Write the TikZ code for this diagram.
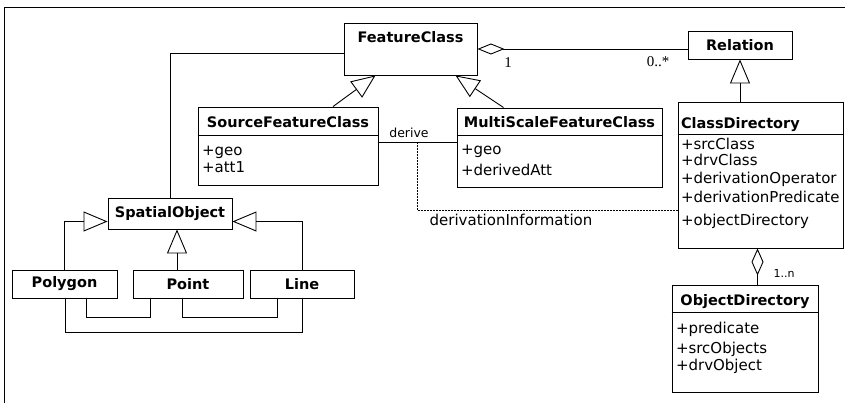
\documentclass[tikz,border=0pt]{standalone}
\usepackage{fontspec}
\setmainfont{DejaVu Sans}
\newfontfamily\multfont{Liberation Serif}
\usetikzlibrary{arrows.meta,calc}

\tikzset{
  umlbox/.style={draw, inner sep=0pt},
  head/.style={font=\fontsize{14.5}{17}\selectfont\bfseries, inner sep=0pt},
  attr/.style={font=\fontsize{15}{17}\selectfont, anchor=west, inner sep=0pt},
  mult/.style={font=\multfont\fontsize{15}{17}\selectfont, inner sep=0pt},
  gen/.style={-{Triangle[open,length=24pt,width=20pt]}},
  aggr/.style={{Diamond[open,length=27pt,width=11pt]}-},
  infoline/.style={dash pattern=on 2pt off 1pt},
}

\begin{document}
\begin{tikzpicture}[x=1pt,y=-1pt,line width=0.9pt]
    \useasboundingbox (0,0) rectangle (845,403);
    \draw (845,7) -- (4,7) -- (4,403);

    % feature classes
    \node[umlbox, minimum width=133, minimum height=52] (feat) at (410.5,49) {};
    \node[head] (feath) at ([yshift=-15]feat.north) {FeatureClass};

    \node[umlbox, minimum width=180, minimum height=78] (src) at (288,146) {};
    \node[head] (srch) at ([yshift=-16]src.north) {SourceFeatureClass};
    \draw ([yshift=-29]src.north west) -- ([yshift=-29]src.north east);
    \node[attr] (src1) at ([xshift=4,yshift=-46]src.north west) {+geo};
    \node[attr] (src2) at ([xshift=4,yshift=-61]src.north west) {+att1};

    \node[umlbox, minimum width=205, minimum height=79] (multi) at (559.5,147.5) {};
    \node[head] (multih) at ([yshift=-15]multi.north) {MultiScaleFeatureClass};
    \draw ([yshift=-28]multi.north west) -- ([yshift=-28]multi.north east);
    \node[attr] (multi1) at ([xshift=4,yshift=-44]multi.north west) {+geo};
    \node[attr] (multi2) at ([xshift=4,yshift=-62]multi.north west) {+derivedAtt};

    % relations
    \node[umlbox, minimum width=104, minimum height=28] (rel) at (740,45) {};
    \node[head] (relh) at (rel.center) {Relation};

    \node[umlbox, minimum width=165, minimum height=146] (cd) at (760.5,175) {};
    \node[head, anchor=west] (cdh) at ([xshift=3,yshift=-23]cd.north west) {ClassDirectory};
    \draw ([yshift=-33]cd.north west) -- ([yshift=-33]cd.north east);
    \node[attr] (cd1) at ([xshift=3,yshift=-42]cd.north west) {+srcClass};
    \node[attr] (cd2) at ([xshift=3,yshift=-58]cd.north west) {+drvClass};
    \node[attr] (cd3) at ([xshift=3,yshift=-78]cd.north west) {+derivationOperator};
    \node[attr] (cd4) at ([xshift=3,yshift=-95]cd.north west) {+derivationPredicate};
    \node[attr] (cd5) at ([xshift=3,yshift=-120]cd.north west) {+objectDirectory};

    \node[umlbox, minimum width=146, minimum height=107] (od) at (745,338.5) {};
    \node[head] (odh) at ([yshift=-17]od.north) {ObjectDirectory};
    \draw ([yshift=-28]od.north west) -- ([yshift=-28]od.north east);
    \node[attr] (od1) at ([xshift=4,yshift=-45]od.north west) {+predicate};
    \node[attr] (od2) at ([xshift=4,yshift=-65]od.north west) {+srcObjects};
    \node[attr] (od3) at ([xshift=4,yshift=-82]od.north west) {+drvObject};

    % spatial objects
    \node[umlbox, minimum width=124, minimum height=31] (spatial) at (170,213.5) {};
    \node[head] (spatialh) at (spatial.center) {SpatialObject};
    \node[umlbox, minimum width=105, minimum height=28] (poly) at (64.5,284) {};
    \node[head] (polyh) at (poly.center) {Polygon};
    \node[umlbox, minimum width=110, minimum height=28] (point) at (188,284) {};
    \node[head] (pointh) at (point.center) {Point};
    \node[umlbox, minimum width=104, minimum height=28] (line) at (302,284) {};
    \node[head] (lineh) at (line.center) {Line};

    % generalisations
    \draw[gen] ([xshift=45]src.north) -- ([xshift=-35]feat.south);
    \draw[gen] ([xshift=-56]multi.north) -- ([xshift=45]feat.south);
    \draw[gen] (rel.south |- cd.north) -- (rel.south);
    \coordinate (spt) at ([xshift=7]spatial.south);
    \draw[gen] (spt |- point.north) -- (spt);
    \draw[gen] (poly.north) |- ([yshift=-8]spatial.west);
    \draw[gen] (line.north) |- ([yshift=-8]spatial.east);

    % associations
    \draw[aggr] (feat.east) -- (feat.east -| rel.west);
    \node[mult] (m1) at (508,63) {1};
    \node[mult] (m2) at (658,62) {0..*};

    \coordinate (cdo) at ([xshift=-3]cd.south);
    \draw[{Diamond[open,length=27pt,width=12pt]}-] (cdo) -- (cdo |- od.north);
    \node[font=\fontsize{11}{13}\selectfont, inner sep=0pt] (m3) at (784,273) {1..n};

    \draw ([yshift=-4]feat.west) -| (spatial.north);

    \coordinate (dv) at ([yshift=4]src.east);
    \draw (dv) -- (dv -| multi.west);
    \node[font=\fontsize{12.5}{14}\selectfont, inner sep=0pt] (dvl) at (409,133) {derive};
    \draw[infoline] ([xshift=39]dv) |- ([yshift=-35]cd.west);
    \node[attr, anchor=center] (dinf) at (511,220) {derivationInformation};

    \draw ([xshift=22]poly.south) -- ++(0,19) -| ([xshift=-38]point.south);
    \draw ([xshift=-6]point.south) -- ++(0,19) -| ([xshift=-25]line.south);
    \draw ([xshift=1]poly.south) -- ++(0,34) -| (line.south);

\end{tikzpicture}
\end{document}
